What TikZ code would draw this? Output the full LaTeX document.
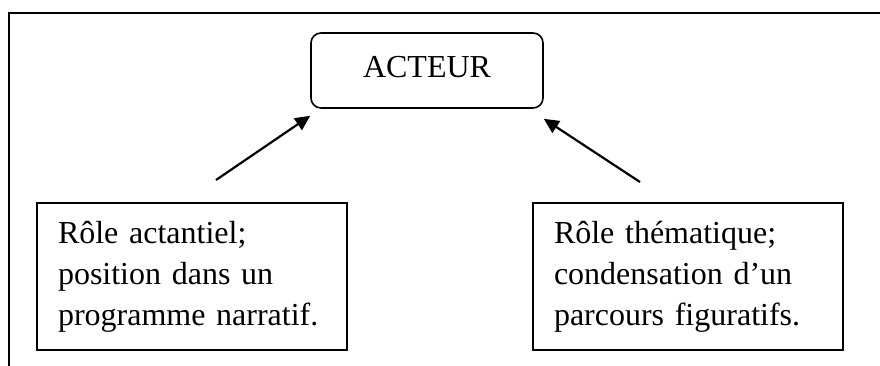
\documentclass[tikz,border=0pt]{standalone}
\usepackage{fontspec}
\setmainfont{Liberation Serif}
\usetikzlibrary{arrows.meta}
\begin{document}
\begin{tikzpicture}[x=1pt,y=-1pt,
  frame/.style={line width=2.4pt},
  rolebox/.style={draw, line width=1.6pt, minimum width=310pt, minimum height=147pt,
    text width=268pt, align=left, inner sep=0pt,
    font=\fontsize{32}{41}\selectfont},
  topbox/.style={draw, line width=1.6pt, rounded corners=10pt,
    minimum width=232pt, minimum height=75pt, inner sep=0pt,
    text height=21pt, text depth=8pt, font=\fontsize{32}{41}\selectfont},
  link/.style={line width=2.2pt, -{Triangle[length=15pt,width=14pt]}}]
  \useasboundingbox (0,0) rectangle (880,365);
  \clip (0,0) rectangle (880,365);
  \fill[white] (0,0) rectangle (880,365);
  % surrounding frame
  \draw[frame] (9,370) -- (9,13) -- (885,13);
  % central node
  \node[topbox] (acteur) at (427,70.5) {ACTEUR};
  % the two roles
  \node[rolebox] (actantiel) at (192,276.5) {R\^ole actantiel;\\position dans un\\programme narratif.};
  \node[rolebox] (thematique) at (688,276.5) {R\^ole th\'ematique;\\condensation d’un\\parcours figuratifs.};
  % arrows towards the actor
  \coordinate (fromA) at (216,180);
  \coordinate (fromT) at (640,182);
  \draw[link] (fromA) -- ([yshift=-7pt]acteur.south west);
  \draw[link] (fromT) -- ([yshift=-10pt]acteur.south east);
\end{tikzpicture}
\end{document}
